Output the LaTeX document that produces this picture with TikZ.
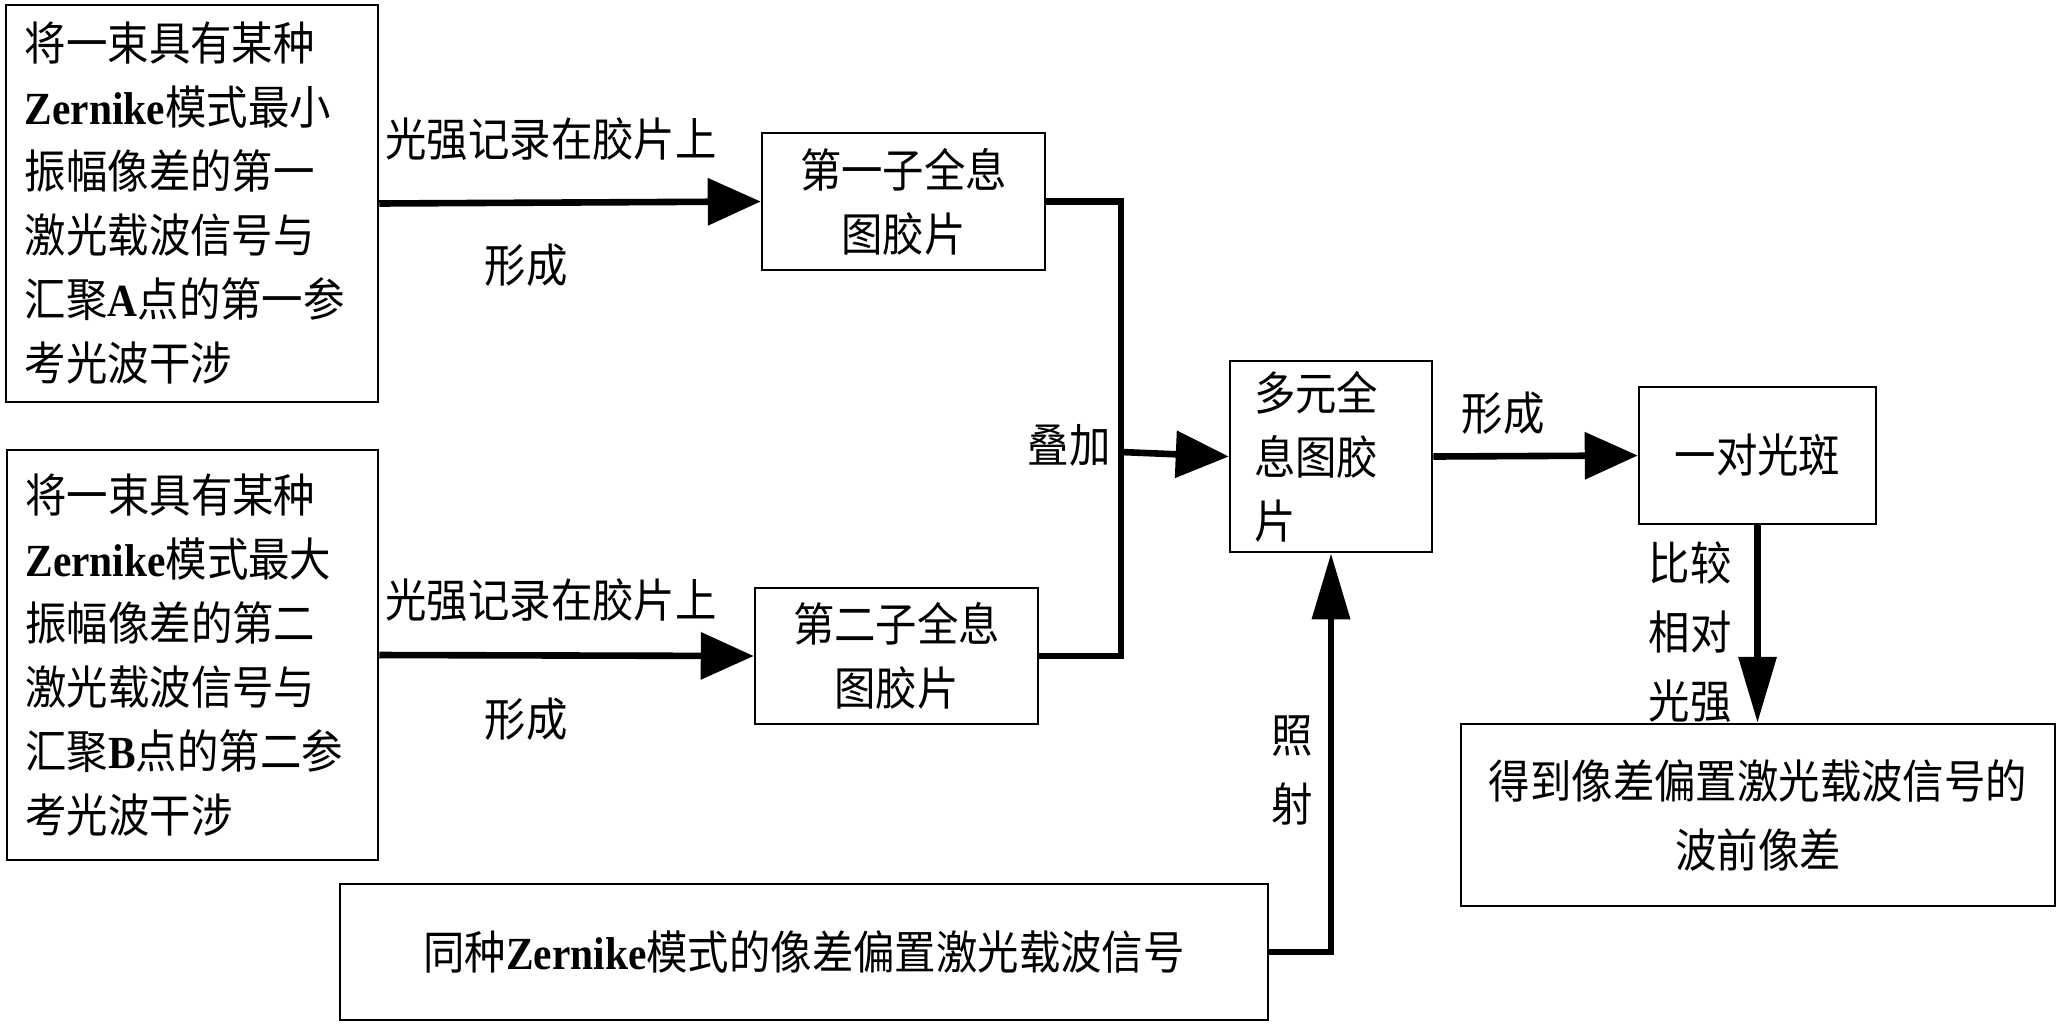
\documentclass[tikz,border=0pt]{standalone}
\usepackage{fontspec}
\setmainfont{Liberation Serif}[FakeStretch=0.9]
\newfontfamily\cjk{Noto Sans CJK SC}[FakeStretch=0.9]
\newcommand\lat[1]{{\rmfamily\bfseries #1}}
\usetikzlibrary{arrows.meta}
\tikzset{
  box/.style={draw=black, line width=1.25pt, inner sep=0pt, align=center, font=\cjk\fontsize{23}{32}\selectfont},
  lbl/.style={inner sep=0pt, align=center, font=\cjk\fontsize{23}{32}\selectfont},
  lblv/.style={lbl, font=\cjk\fontsize{23}{34.5}\selectfont},
  flowh/.style={line width=3.3pt, -{Triangle[length=26.5pt,width=23pt]}},
  flowv/.style={line width=3.4pt, -{Triangle[length=33pt,width=18.5pt]}},
  wire/.style={line width=3.1pt}
}
\begin{document}
\begin{tikzpicture}[x=0.5pt, y=-0.5pt]
\useasboundingbox (0,0) rectangle (2064,1029);
% boxes
\node[box, minimum width=186pt, minimum height=198.5pt, text width=167pt, align=left] (L1) at (192,203.5) {将一束具有某种\\\lat{Zernike}模式最小\\振幅像差的第一\\激光载波信号与\\汇聚\lat{A}点的第一参\\考光波干涉};
\node[box, minimum width=185.5pt, minimum height=205pt, text width=167pt, align=left] (L2) at (192.5,655) {将一束具有某种\\\lat{Zernike}模式最大\\振幅像差的第二\\激光载波信号与\\汇聚\lat{B}点的第二参\\考光波干涉};
\node[box, minimum width=141.5pt, minimum height=68.5pt] (S1) at (903.5,201.5) {第一子全息\\图胶片};
\node[box, minimum width=141.5pt, minimum height=68pt] (S2) at (896.5,656) {第二子全息\\图胶片};
\node[box, minimum width=101pt, minimum height=95.5pt, text width=77pt, align=left] (M) at (1331,456.5) {多元全\\息图胶\\片};
\node[box, minimum width=118.5pt, minimum height=68.5pt] (P) at (1757.5,455.5) {一对光斑};
\node[box, minimum width=297pt, minimum height=91pt, font=\cjk\fontsize{23}{34.5}\selectfont] (R) at (1758,815) {得到像差偏置激光载波信号的\\波前像差};
\node[box, minimum width=464pt, minimum height=68pt] (B) at (804,952) {同种\lat{Zernike}模式的像差偏置激光载波信号};
\coordinate (J) at (1121,452);
% labels
\node[lbl] (rec1) at (551,139) {光强记录在胶片上};
\node[lbl] (form1) at (526,265) {形成};
\node[lbl] (rec2) at (551,600) {光强记录在胶片上};
\node[lbl] (form2) at (526,719) {形成};
\node[lbl] (sum) at (1069,445) {叠加};
\node[lbl] (form3) at (1503,413) {形成};
\node[lblv] (cmp) at (1690,632) {比较\\相对\\光强};
\node[lblv] (shine) at (1292,770) {照\\射};
% connectors
\path[flowh] (L1.east) edge (S1.west);
\path[flowh] (L2.east) edge (S2.west);
\draw[wire] (S1.east) -| (J) |- (S2.east);
\path[flowh] (J) edge (M.west);
\path[flowh] (M.east) edge (P.west);
\path[flowv] (P.south) edge (P.south |- R.north);
\draw[flowv] (B.east) -| (M.south);
\end{tikzpicture}
\end{document}
